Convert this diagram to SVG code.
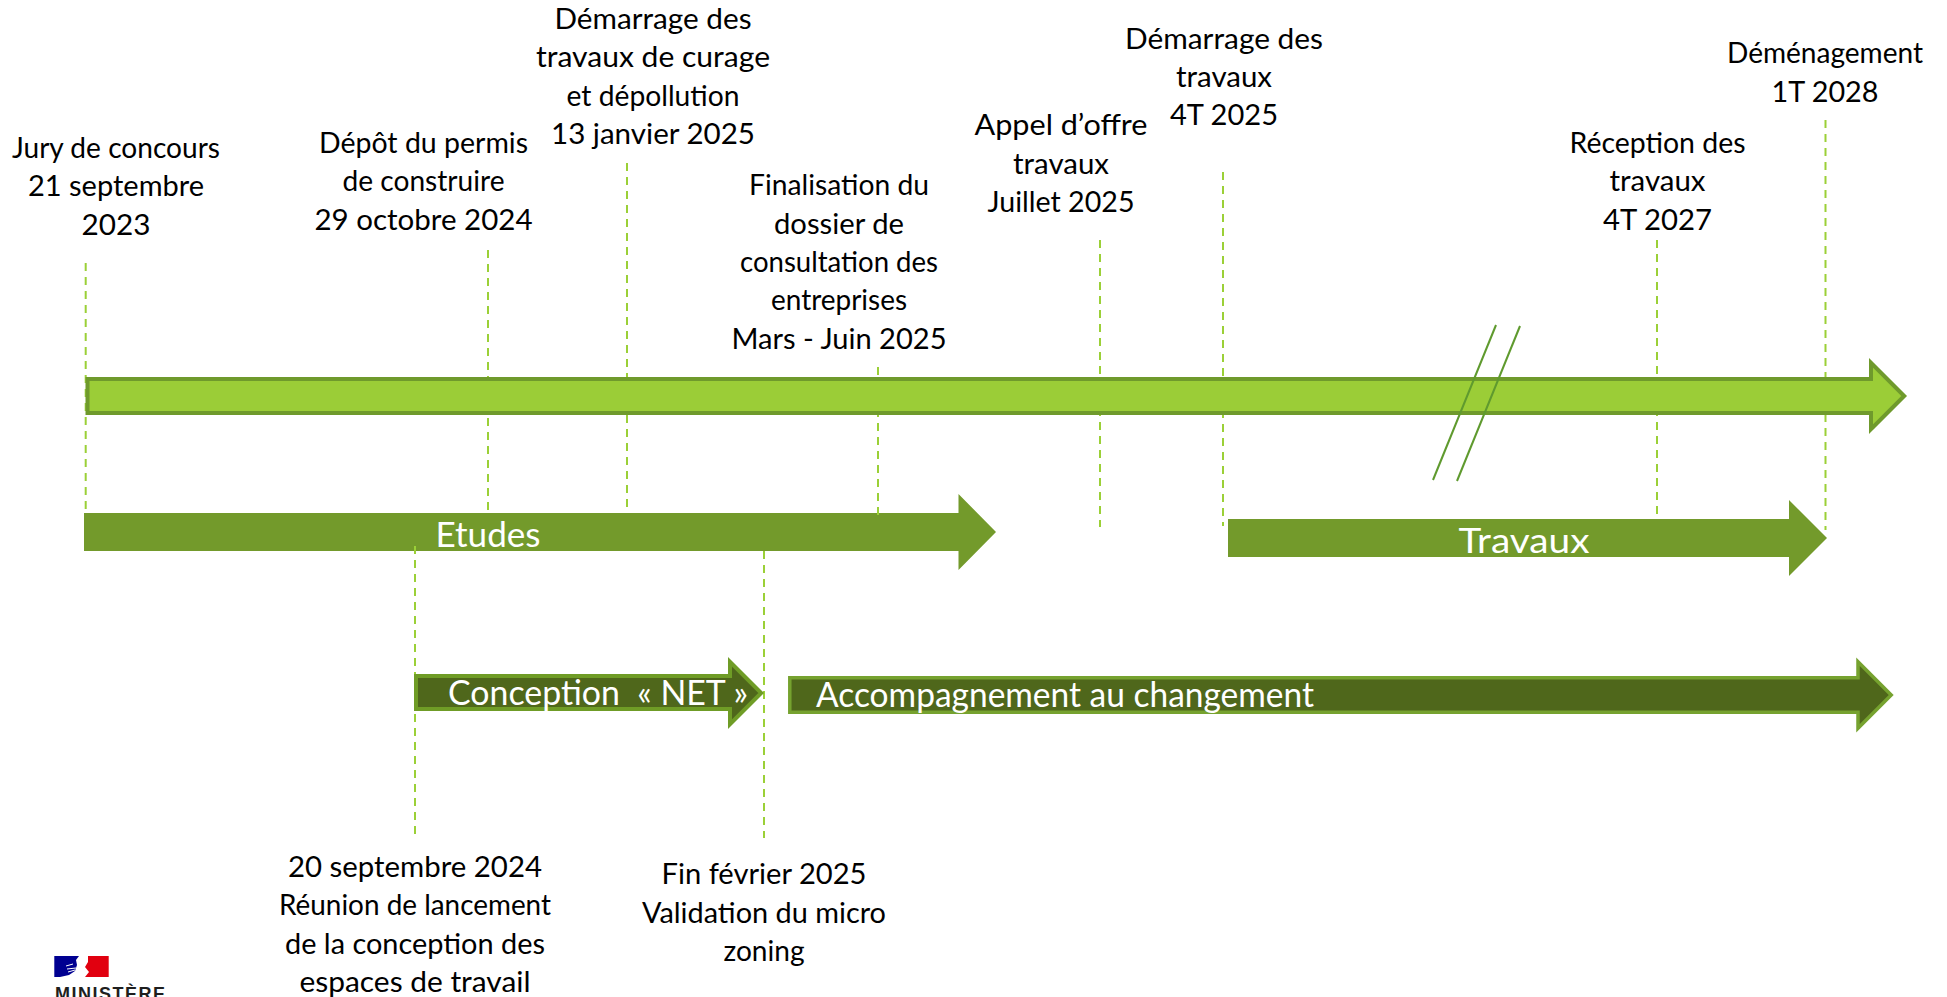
<svg xmlns="http://www.w3.org/2000/svg" width="1947" height="997" viewBox="0 0 1947 997">
<style>
.t{font-family:Lato,"Noto Sans",sans-serif;font-size:29.500px;fill:#000;text-anchor:middle}
.w{font-family:Lato,"Noto Sans",sans-serif;font-size:34px;fill:#fff;text-anchor:middle}
.d{stroke:#9BD037;stroke-width:2;stroke-dasharray:8 6;fill:none}
.s{stroke:#5F9A2E;stroke-width:2;fill:none}
</style>
<rect width="1947" height="997" fill="#fff"/>
<g id="etudes"><path d="M84 513H958.500V494L996 532L958.500 570V551H84Z" fill="#739A2B"/><text class="w" x="488" y="547" textLength="105" lengthAdjust="spacingAndGlyphs">Etudes</text></g>
<g id="travaux"><path d="M1228 519H1789V500L1827 538L1789 576V557H1228Z" fill="#739A2B"/><text class="w" x="1524" y="553" textLength="131" lengthAdjust="spacingAndGlyphs">Travaux</text></g>
<g id="connectors">
<path class="d" d="M85.700 263V513"/>
<path class="d" d="M488 250V510"/>
<path class="d" d="M627 163V508"/>
<path class="d" d="M878 367V515"/>
<path class="d" d="M1100 240V527"/>
<path class="d" d="M1223 172V526"/>
<path class="d" d="M1657 240V516"/>
<path class="d" d="M1825.500 120V530"/>
<path class="d" d="M415 546V835"/>
<path class="d" d="M764 551V838"/>
</g>
<g id="frise"><path d="M87.500 379H1871V362.800L1904.200 396L1871 429.200V413H87.500Z" fill="#9BCD37" stroke="#6F9A2C" stroke-width="4"/></g>
<g id="rupture"><path class="s" d="M1496 325L1433 480"/><path class="s" d="M1520 326L1457 481"/></g>
<g id="conception"><path d="M416 676H730V661.800L761.200 693L730 724.200V709H416Z" fill="#4F671B" stroke="#6F9C26" stroke-width="4"/><text class="w" x="598" y="705" textLength="300" lengthAdjust="spacingAndGlyphs" xml:space="preserve">Conception  « NET »</text></g>
<g id="accompagnement"><path d="M789.800 677.800H1858V661.800L1891.200 695L1858 728.200V712.200H789.800Z" fill="#4F671B" stroke="#76A22F" stroke-width="3.500"/><text class="w" x="1065" y="707" textLength="498" lengthAdjust="spacingAndGlyphs">Accompagnement au changement</text></g>
<g id="jalon-jury"><text class="t" x="116" y="158" textLength="208" lengthAdjust="spacingAndGlyphs">Jury de concours</text><text class="t" x="116" y="196" textLength="176" lengthAdjust="spacingAndGlyphs">21 septembre</text><text class="t" x="116" y="235" textLength="69" lengthAdjust="spacingAndGlyphs">2023</text></g>
<g id="jalon-permis"><text class="t" x="423.500" y="153" textLength="209" lengthAdjust="spacingAndGlyphs">Dépôt du permis</text><text class="t" x="423.500" y="191" textLength="162" lengthAdjust="spacingAndGlyphs">de construire</text><text class="t" x="423.500" y="230" textLength="218" lengthAdjust="spacingAndGlyphs">29 octobre 2024</text></g>
<g id="jalon-curage"><text class="t" x="653" y="29" textLength="197" lengthAdjust="spacingAndGlyphs">Démarrage des</text><text class="t" x="653" y="67" textLength="234" lengthAdjust="spacingAndGlyphs">travaux de curage</text><text class="t" x="653" y="106" textLength="173" lengthAdjust="spacingAndGlyphs">et dépollution</text><text class="t" x="653" y="144" textLength="204" lengthAdjust="spacingAndGlyphs">13 janvier 2025</text></g>
<g id="jalon-dce"><text class="t" x="839" y="195" textLength="180" lengthAdjust="spacingAndGlyphs">Finalisation du</text><text class="t" x="839" y="234" textLength="130" lengthAdjust="spacingAndGlyphs">dossier de</text><text class="t" x="839" y="272" textLength="198" lengthAdjust="spacingAndGlyphs">consultation des</text><text class="t" x="839" y="310" textLength="136" lengthAdjust="spacingAndGlyphs">entreprises</text><text class="t" x="839" y="349" textLength="215" lengthAdjust="spacingAndGlyphs">Mars - Juin 2025</text></g>
<g id="jalon-aoo"><text class="t" x="1061" y="135" textLength="173" lengthAdjust="spacingAndGlyphs">Appel d’offre</text><text class="t" x="1061" y="174" textLength="96" lengthAdjust="spacingAndGlyphs">travaux</text><text class="t" x="1061" y="212" textLength="147" lengthAdjust="spacingAndGlyphs">Juillet 2025</text></g>
<g id="jalon-travaux"><text class="t" x="1224" y="49" textLength="198" lengthAdjust="spacingAndGlyphs">Démarrage des</text><text class="t" x="1224" y="87" textLength="96" lengthAdjust="spacingAndGlyphs">travaux</text><text class="t" x="1224" y="125" textLength="108" lengthAdjust="spacingAndGlyphs">4T 2025</text></g>
<g id="jalon-reception"><text class="t" x="1657.500" y="153" textLength="176" lengthAdjust="spacingAndGlyphs">Réception des</text><text class="t" x="1657.500" y="191" textLength="96" lengthAdjust="spacingAndGlyphs">travaux</text><text class="t" x="1657.500" y="230" textLength="109" lengthAdjust="spacingAndGlyphs">4T 2027</text></g>
<g id="jalon-demenagement"><text class="t" x="1825" y="63" textLength="196" lengthAdjust="spacingAndGlyphs">Déménagement</text><text class="t" x="1825" y="102" textLength="107" lengthAdjust="spacingAndGlyphs">1T 2028</text></g>
<g id="jalon-lancement"><text class="t" x="415" y="877" textLength="254" lengthAdjust="spacingAndGlyphs">20 septembre 2024</text><text class="t" x="415" y="915" textLength="272" lengthAdjust="spacingAndGlyphs">Réunion de lancement</text><text class="t" x="415" y="954" textLength="260" lengthAdjust="spacingAndGlyphs">de la conception des</text><text class="t" x="415" y="992" textLength="231" lengthAdjust="spacingAndGlyphs">espaces de travail</text></g>
<g id="jalon-zoning"><text class="t" x="764" y="884" textLength="205" lengthAdjust="spacingAndGlyphs">Fin février 2025</text><text class="t" x="764" y="923" textLength="244" lengthAdjust="spacingAndGlyphs">Validation du micro</text><text class="t" x="764" y="961" textLength="81" lengthAdjust="spacingAndGlyphs">zoning</text></g>
<g id="logo">
<path d="M54.300 956H79L76 960L77 965L75 971L69 975L60 977H54.300Z" fill="#000091"/>
<path d="M88 956H108.700V977H85L89 972L85 967L88 962Z" fill="#E1000F"/>
<path d="M67 969L76 968M68 972L75 970M66 966L73 964" stroke="#fff" stroke-width="1" fill="none"/>
<text x="55" y="1000" font-family="'Liberation Sans',Arial,sans-serif" font-weight="700" font-size="18" fill="#1E1E1E" textLength="110" lengthAdjust="spacing">MINISTÈRE</text>
</g>
</svg>
